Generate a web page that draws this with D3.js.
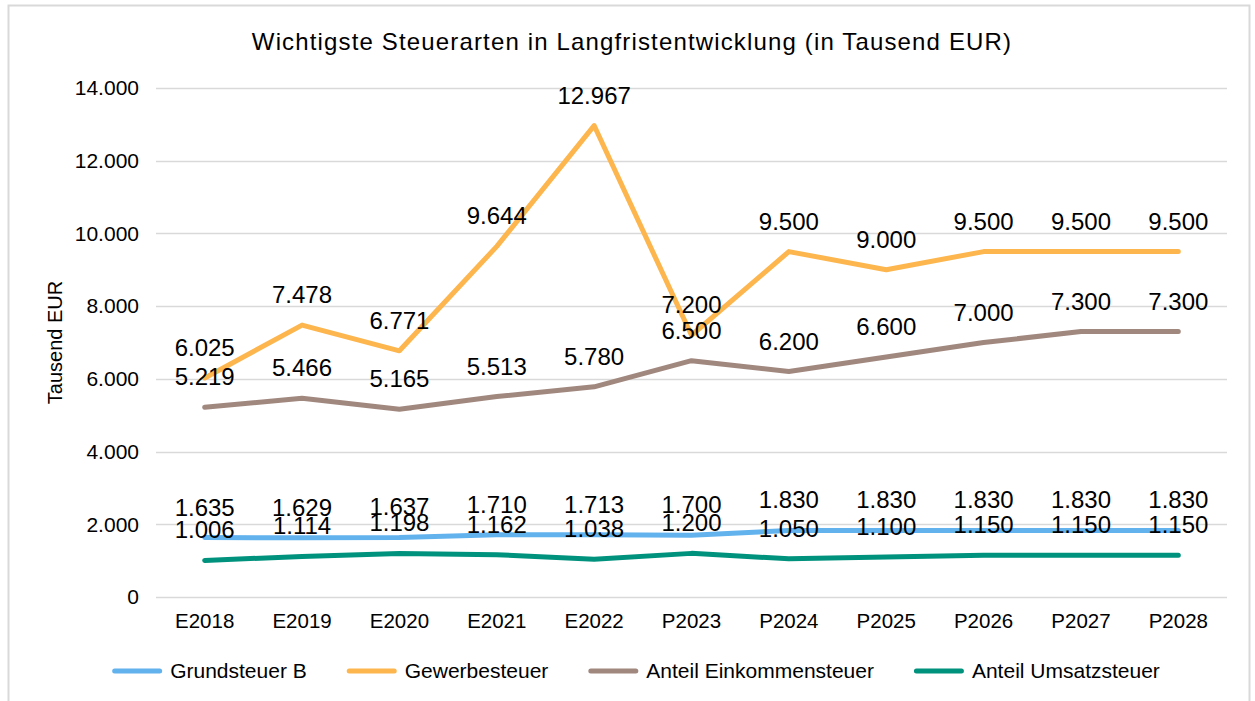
<!DOCTYPE html>
<html>
<head>
<meta charset="utf-8">
<script src="https://cdn.jsdelivr.net/npm/d3@7"></script>
<style>
  body { margin: 0; background: #fff; }
  svg { display: block; font-family: "Liberation Sans", Arial, sans-serif; }
</style>
</head>
<body>
<div id="chart"></div>
<script>
const categories = ['E2018', 'E2019', 'E2020', 'E2021', 'E2022', 'P2023', 'P2024', 'P2025', 'P2026', 'P2027', 'P2028'];

const grundsteuerB = [1635, 1629, 1637, 1710, 1713, 1700, 1830, 1830, 1830, 1830, 1830];
const gewerbesteuer = [6025, 7478, 6771, 9644, 12967, 7200, 9500, 9000, 9500, 9500, 9500];
const einkommensteuer = [5219, 5466, 5165, 5513, 5780, 6500, 6200, 6600, 7000, 7300, 7300];
const umsatzsteuer = [1006, 1114, 1198, 1162, 1038, 1200, 1050, 1100, 1150, 1150, 1150];

const yTicks = [0, 2000, 4000, 6000, 8000, 10000, 12000, 14000];

const series = [
  { name: 'Grundsteuer B', values: grundsteuerB, color: '#62B2EE' },
  { name: 'Gewerbesteuer', values: gewerbesteuer, color: '#FDB64E' },
  { name: 'Anteil Einkommensteuer', values: einkommensteuer, color: '#A1887F' },
  { name: 'Anteil Umsatzsteuer', values: umsatzsteuer, color: '#00927D' }
];

const W = 1255, H = 701;
const plot = { left: 156, right: 1227, top: 88, bottom: 597 };

const de = d3.formatLocale({ decimal: ',', thousands: '.', grouping: [3], currency: ['', ' €'] });
const fmt = de.format(',d');

const svg = d3.select('#chart')
  .append('svg')
  .attr('width', W)
  .attr('height', H);

// outer frame
svg.append('rect')
  .attr('x', 8.5).attr('y', 5.5)
  .attr('width', 1241).attr('height', 710)
  .attr('fill', '#fff')
  .attr('stroke', '#d9d9d9')
  .attr('stroke-width', 2);

// title
svg.append('text')
  .attr('x', 632)
  .attr('y', 50)
  .attr('text-anchor', 'middle')
  .style('font-size', '24px')
  .style('letter-spacing', '1.15px')
  .text('Wichtigste Steuerarten in Langfristentwicklung (in Tausend EUR)');

const x = d3.scaleBand()
  .domain(categories)
  .range([plot.left, plot.right]);
const cx = d => x(d) + x.bandwidth() / 2;

const y = d3.scaleLinear()
  .domain([0, 14000])
  .range([plot.bottom, plot.top]);

// gridlines
svg.append('g')
  .selectAll('line')
  .data(yTicks)
  .enter()
  .append('line')
  .attr('x1', plot.left)
  .attr('x2', plot.right)
  .attr('y1', d => Math.round(y(d)) + 0.5)
  .attr('y2', d => Math.round(y(d)) + 0.5)
  .attr('stroke', '#d9d9d9')
  .attr('stroke-width', 1.5);

// y axis labels
const yAxis = d3.axisLeft(y)
  .tickValues(yTicks)
  .tickFormat(fmt)
  .tickSize(0)
  .tickPadding(17);

svg.append('g')
  .attr('transform', `translate(${plot.left}, 0)`)
  .call(yAxis)
  .call(g => g.select('.domain').remove())
  .selectAll('text')
  .attr('fill', '#000')
  .style('font-family', '"Liberation Sans", Arial, sans-serif')
  .style('font-size', '21px');

// x axis labels
const xAxis = d3.axisBottom(x)
  .tickSize(0)
  .tickPadding(16);

svg.append('g')
  .attr('transform', `translate(0, ${plot.bottom})`)
  .call(xAxis)
  .call(g => g.select('.domain').remove())
  .selectAll('text')
  .attr('fill', '#000')
  .style('font-family', '"Liberation Sans", Arial, sans-serif')
  .style('font-size', '20.5px');

// y axis title
svg.append('text')
  .attr('transform', `translate(62, ${(plot.top + plot.bottom) / 2}) rotate(-90)`)
  .attr('text-anchor', 'middle')
  .style('font-size', '20px')
  .text('Tausend EUR');

// lines
const line = d3.line()
  .x((d, i) => cx(categories[i]))
  .y(d => y(d));

svg.append('g')
  .selectAll('path')
  .data(series)
  .enter()
  .append('path')
  .attr('d', d => line(d.values))
  .attr('fill', 'none')
  .attr('stroke', d => d.color)
  .attr('stroke-width', 5)
  .attr('stroke-linecap', 'round')
  .attr('stroke-linejoin', 'round');

// data labels
series.forEach(s => {
  svg.append('g')
    .selectAll('text')
    .data(s.values)
    .enter()
    .append('text')
    .attr('x', (d, i) => cx(categories[i]))
    .attr('y', d => y(d) - 22)
    .attr('text-anchor', 'middle')
    .style('font-size', '24px')
    .text(d => fmt(d));
});

// legend
const legend = svg.append('g');
let pos = 0;
series.forEach(s => {
  const g = legend.append('g').attr('transform', `translate(${pos}, 0)`);
  g.append('line')
    .attr('x1', 2.5).attr('x2', 47.5)
    .attr('stroke', s.color)
    .attr('stroke-width', 5)
    .attr('stroke-linecap', 'round');
  const t = g.append('text')
    .attr('x', 58)
    .attr('y', 7)
    .style('font-size', '21px')
    .text(s.name);
  pos += 58 + t.node().getComputedTextLength() + 40;
});
const total = pos - 40;
legend.attr('transform', `translate(${636 - total / 2}, 671)`);
</script>
</body>
</html>
